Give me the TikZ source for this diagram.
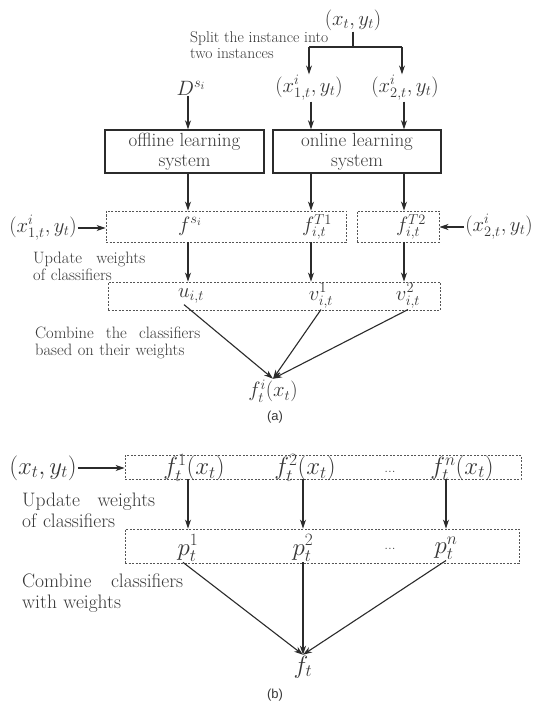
\documentclass[tikz,border=0pt]{standalone}
\usepackage{fontspec}
\newfontfamily\capfont{Liberation Sans}
\usetikzlibrary{arrows.meta}
\definecolor{ink}{HTML}{383838}
\definecolor{edge}{HTML}{2b2b2b}
\begin{document}
\begin{tikzpicture}[x=1pt,y=-1pt,
  every node/.style={text=ink},
  lbla/.style={font=\fontsize{16.5}{17}\selectfont, inner sep=0pt, anchor=west, align=left},
  lblb/.style={font=\fontsize{19.5}{20.5}\selectfont, inner sep=0pt, anchor=west, align=left},
  ma/.style={font=\fontsize{21}{24}\selectfont, inner sep=1pt},
  mb/.style={font=\fontsize{25}{28}\selectfont, inner sep=1pt},
  dotsnode/.style={font=\fontsize{15}{17}\selectfont, inner sep=0pt},
  sysbox/.style={draw=edge, line width=1.4pt, font=\fontsize{19}{20}\selectfont, align=center, inner sep=0pt},
  dbox/.style={draw=edge!80, line width=0.9pt, dash pattern=on 2pt off 1.5pt, inner sep=0pt},
  arr/.style={draw=edge, line width=1.1pt, -{Stealth[length=9pt,width=6pt]}},
  ln/.style={draw=edge, line width=1.3pt},
  capt/.style={font=\capfont\fontsize{13}{15}\selectfont}
]
\fill[white] (0,0) rectangle (552,703);
\useasboundingbox (0,0) rectangle (552,703);

% ---------- (a) ----------
\node[ma] (xy) at (353,20) {$(x_t,y_t)$};
\node[lbla, font=\fontsize{15.6}{16}\selectfont] (split) at (190,45) {Split the instance into\\two instances};
\coordinate (br) at (353,47);
\coordinate (bl) at (309,47);
\coordinate (bri) at (402,47);
\node[ma] (D) at (191,88) {$D^{s_i}$};
\node[ma] (x1) at (309,88) {$(x^i_{1,t},y_t)$};
\node[ma] (x2) at (405,88) {$(x^i_{2,t},y_t)$};
\draw[ln] (xy.south) -- (br);
\draw[ln] (bl) -- (bri);
\draw[arr] (bl) -- (bl |- x1.north);
\draw[arr] (bri) -- (bri |- x2.north);

\node[sysbox, minimum width=159pt, minimum height=43pt] (off) at (184.5,151.5) {offline learning\\system};
\node[sysbox, minimum width=168pt, minimum height=43pt] (on) at (357,151.5) {online learning\\system};

\coordinate (k1) at (188,0);
\coordinate (k2) at (311,0);
\coordinate (k3) at (404,0);
\draw[arr] (k1 |- D.south) -- (k1 |- off.north);
\draw[arr] (k2 |- x1.south) -- (k2 |- on.north);
\draw[arr] (k3 |- x2.south) -- (k3 |- on.north);

\node[dbox, minimum width=240pt, minimum height=31pt] (b1) at (226,226.5) {};
\node[dbox, minimum width=82pt, minimum height=31pt] (b2) at (398,226.5) {};
\node[dbox, minimum width=332pt, minimum height=28pt] (b3) at (274,296) {};
\node[ma] (fs) at (190,226) {$f^{s_i}$};
\node[ma] (fT1) at (317,227) {$f^{T1}_{i,t}$};
\node[ma] (fT2) at (411,227) {$f^{T2}_{i,t}$};
\draw[arr] (k1 |- off.south) -- (k1 |- b1.north);
\draw[arr] (k2 |- on.south) -- (k2 |- b1.north);
\draw[arr] (k3 |- on.south) -- (k3 |- b2.north);

\node[ma] (x1L) at (43,228) {$(x^i_{1,t},y_t)$};
\node[ma] (x2R) at (499,227) {$(x^i_{2,t},y_t)$};
\draw[arr] (x1L.east) -- (x1L.east -| b1.west);
\draw[arr] (x2R.west) -- (x2R.west -| b2.east);

\node[lbla, text width=112pt] (upa) at (33,266) {Update\hfill weights\\of classifiers};
\draw[arr] (k1 |- b1.south) -- (k1 |- b3.north);
\draw[arr] (k2 |- b1.south) -- (k2 |- b3.north);
\draw[arr] (k3 |- b2.south) -- (k3 |- b3.north);

\node[ma] (u) at (191,296) {$u_{i,t}$};
\node[ma] (v1) at (321,296) {$v^1_{i,t}$};
\node[ma] (v2) at (408,296) {$v^2_{i,t}$};
\node[lbla, text width=165pt] (cba) at (35,343) {Combine\hfill the\hfill classifiers\\based on their weights};
\node[ma] (fa) at (273,391) {$f^i_t(x_t)$};
\draw[arr] ([xshift=-7pt]u.south) -- (fa.north);
\draw[arr] (v1.south) -- (fa.north);
\draw[arr] (v2.south) -- (fa.north);
\node[capt] (ca) at (275,417) {(a)};

% ---------- (b) ----------
\node[mb] (xyb) at (43,468) {$(x_t,y_t)$};
\node[dbox, minimum width=396pt, minimum height=24pt] (bb1) at (323,467) {};
\node[mb] (f1) at (194,468) {$f^1_t(x_t)$};
\node[mb] (f2) at (305,468) {$f^2_t(x_t)$};
\node[dotsnode] (d1) at (390,472) {...};
\node[mb] (fn) at (462,468) {$f^n_t(x_t)$};
\draw[arr] (xyb.east) -- (xyb.east -| bb1.west);

\coordinate (m1) at (188,0);
\coordinate (m2) at (303,0);
\coordinate (m3) at (446,0);
\node[dbox, minimum width=394pt, minimum height=34pt] (bb2) at (322,546) {};
\draw[arr] (m1 |- bb1.south) -- (m1 |- bb2.north);
\draw[arr] (m2 |- bb1.south) -- (m2 |- bb2.north);
\draw[arr] (m3 |- bb1.south) -- (m3 |- bb2.north);
\node[lblb, text width=133pt] (upb) at (22,510.5) {Update\hfill weights\\of classifiers};

\node[mb] (p1) at (188,548) {$p^1_t$};
\node[mb] (p2) at (303,548) {$p^2_t$};
\node[dotsnode] (d2) at (390,549) {...};
\node[mb] (pn) at (446,548) {$p^n_t$};
\node[lblb, text width=161pt] (cbb) at (22,593) {Combine\hfill classifiers\\with weights};
\node[mb] (ft) at (303,667) {$f_t$};
\draw[arr] ([xshift=-5pt]p1.south) -- (ft.north);
\draw[arr] (p2.south) -- (ft.north);
\draw[arr] (pn.south) -- (ft.north);
\node[capt] (cb) at (275,695) {(b)};
\end{tikzpicture}
\end{document}
